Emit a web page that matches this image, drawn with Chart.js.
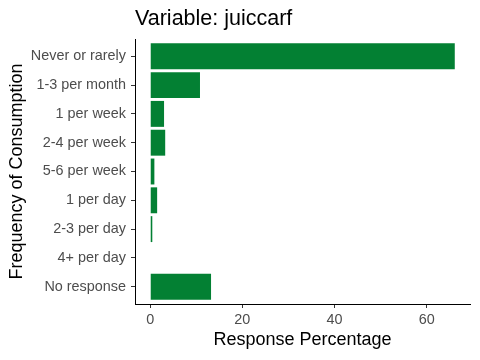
<!DOCTYPE html>
<html>
<head>
<meta charset="utf-8">
<script src="https://cdn.jsdelivr.net/npm/chart.js@4/dist/chart.umd.min.js"></script>
<style>
html,body{margin:0;padding:0;background:#fff;}
#wrap{width:480px;height:360px;}
</style>
</head>
<body>
<div id="wrap"><canvas id="c" width="480" height="360"></canvas></div>
<script>
const categories = ["Never or rarely","1-3 per month","1 per week","2-4 per week","5-6 per week","1 per day","2-3 per day","4+ per day","No response"];
const percentages = [66.1, 10.8, 3.0, 3.25, 0.9, 1.5, 0.45, 0, 13.2];
const xTicks = [0, 20, 40, 60];
const chartTitle = "Variable: juiccarf";
const xTitle = "Response Percentage";
const yTitle = "Frequency of Consumption";

const FONT = "'Liberation Sans', Arial, sans-serif";
const dataMax = Math.max(...percentages);
const expand = dataMax * 0.05;

new Chart(document.getElementById('c'), {
  type: 'bar',
  data: {
    datasets: [{
      data: percentages.map((v, i) => ({x: v, y: i})),
      backgroundColor: '#038033',
      borderWidth: 0,
      barPercentage: 1,
      categoryPercentage: 0.9
    }]
  },
  options: {
    indexAxis: 'y',
    responsive: false,
    animation: false,
    devicePixelRatio: 1,
    layout: {padding: {left: 0, right: 10, top: 0, bottom: 0}},
    plugins: {
      legend: {display: false},
      tooltip: {enabled: false},
      title: {
        display: true,
        text: chartTitle,
        align: 'start',
        fullSize: false,
        color: '#000',
        font: {family: FONT, size: 21.5, weight: 'normal'},
        padding: {top: 6.5, bottom: 6.7}
      }
    },
    scales: {
      x: {
        type: 'linear',
        min: -expand,
        max: dataMax + expand,
        afterBuildTicks: s => { s.ticks = xTicks.map(v => ({value: v})); },
        afterFit: s => { s.height = 56; },
        grid: {display: true, drawOnChartArea: false, drawTicks: true, tickLength: 4, color: '#333333', lineWidth: 1, offset: false},
        border: {display: true, color: '#000', width: 1},
        ticks: {color: '#4D4D4D', font: {family: FONT, size: 14.4}, padding: 3},
        title: {display: true, text: xTitle, color: '#000', font: {family: FONT, size: 18}, padding: {top: 0, bottom: 9.2}}
      },
      y: {
        type: 'linear',
        reverse: true,
        offset: false,
        min: -0.6,
        max: categories.length - 1 + 0.6,
        afterBuildTicks: s => { s.ticks = categories.map((_, i) => ({value: i})); },
        afterFit: s => { s.width = 135; },
        grid: {display: true, drawOnChartArea: false, drawTicks: true, tickLength: 4, color: '#333333', lineWidth: 1, offset: false},
        border: {display: true, color: '#000', width: 1},
        ticks: {color: '#4D4D4D', font: {family: FONT, size: 14.4}, padding: 5, autoSkip: false,
                callback: v => categories[v]},
        title: {display: true, text: yTitle, color: '#000', font: {family: FONT, size: 18}, padding: {top: 6.2, bottom: 0}}
      }
    }
  }
});
</script>
</body>
</html>
